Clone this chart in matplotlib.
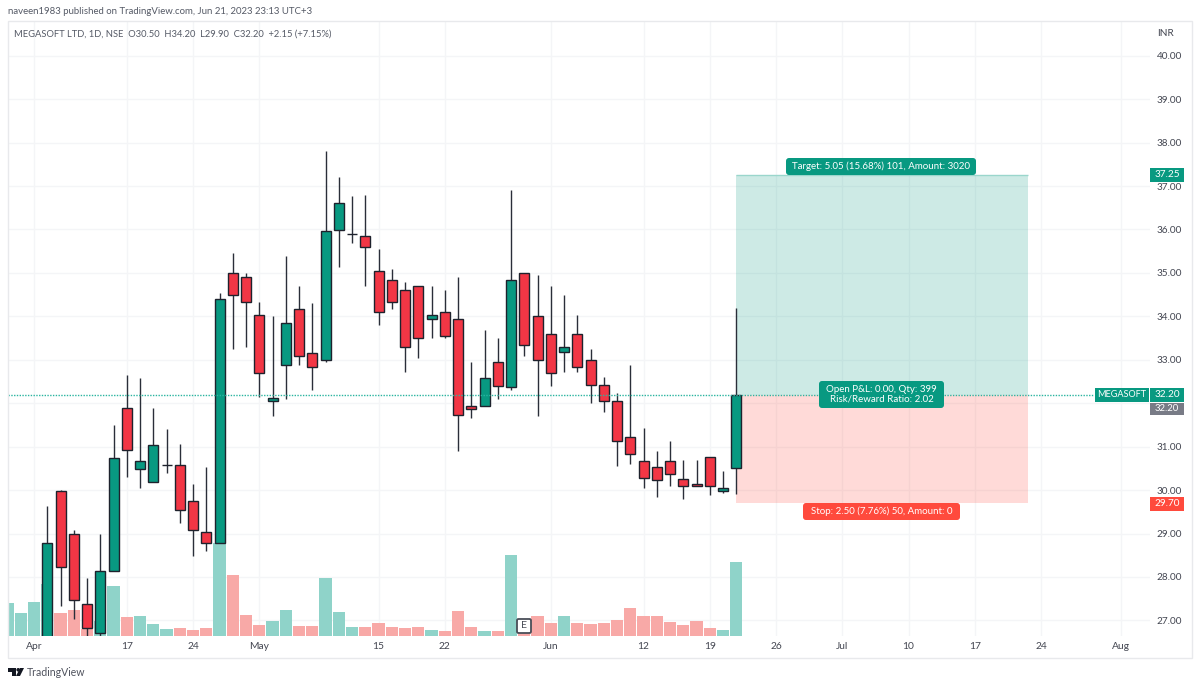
import matplotlib
matplotlib.use('Agg')
import matplotlib.pyplot as plt
import numpy as np
import pandas as pd
from matplotlib.patches import FancyBboxPatch, Rectangle, Polygon, Circle

plt.rcParams['font.family'] = ['Lato', 'DejaVu Sans']

GREEN = '#089981'
RED = '#F23645'
WICK = '#2a2e39'
GRID = '#f4f5f7'
TEXT = '#434651'

# NSE closed days inside the visible bars
holidays = ['2023-03-30', '2023-04-04', '2023-04-07', '2023-04-14', '2023-05-01']

# candles from 5 Apr to 21 Jun 2023
opens = [26.50, 29.98, 28.98, 27.37, 26.70, 28.13, 31.88, 30.48, 30.18, 30.58,
         30.57, 29.74, 29.03, 28.79, 34.99, 34.90, 34.04, 32.05, 32.89, 34.18,
         33.15, 32.99, 35.99, 35.89, 35.84, 35.04, 34.83, 34.60, 34.69, 33.95,
         34.09, 33.94, 31.93, 31.93, 32.94, 32.38, 34.99, 34.00, 33.59, 33.18,
         33.59, 32.99, 32.43, 32.04, 31.23, 30.68, 30.54, 30.68, 30.25, 30.13,
         30.75, 29.98, 30.50]
highs = [29.63, 30.00, 29.09, 27.97, 28.98, 31.50, 32.65, 32.59, 31.88, 31.40,
         31.05, 30.13, 30.54, 34.54, 35.46, 34.99, 34.34, 34.00, 35.40, 34.70,
         34.31, 37.81, 37.21, 36.76, 36.79, 35.55, 35.10, 34.80, 34.69, 34.69,
         34.60, 34.90, 32.95, 33.68, 33.50, 36.91, 34.99, 34.95, 34.70, 34.49,
         34.04, 33.25, 32.60, 32.23, 32.89, 31.44, 30.90, 31.14, 30.69, 30.69,
         30.75, 30.44, 34.20]
lows = [26.30, 27.33, 27.04, 26.50, 26.50, 28.13, 30.29, 30.05, 30.18, 30.40,
        29.25, 28.49, 28.60, 28.79, 33.25, 33.30, 32.15, 31.70, 32.10, 32.89,
        32.30, 32.95, 35.14, 35.70, 34.70, 33.81, 34.16, 32.71, 33.04, 33.51,
        33.51, 30.91, 31.65, 31.93, 32.10, 32.30, 33.09, 31.70, 32.39, 32.71,
        32.71, 32.00, 31.80, 30.55, 30.59, 30.05, 29.85, 30.10, 29.79, 30.09,
        29.89, 29.94, 29.90]
closes = [28.79, 28.23, 27.48, 26.83, 28.13, 30.74, 30.93, 30.68, 31.04, 30.58,
          29.53, 29.09, 28.79, 34.39, 34.48, 34.34, 32.70, 32.13, 33.84, 33.09,
          32.84, 35.96, 36.61, 35.89, 35.60, 34.09, 34.34, 33.29, 33.49, 34.04,
          33.54, 31.73, 31.87, 32.59, 32.39, 34.83, 33.35, 32.99, 32.70, 33.29,
          32.84, 32.43, 32.04, 31.14, 30.84, 30.28, 30.24, 30.38, 30.09, 30.09,
          30.09, 30.04, 32.20]

# volume, arbitrary units. First three have no visible candle
early_volumes = [99, 68, 102]
volumes = [155, 70, 78, 20, 46, 150, 58, 60, 36, 20,
           24, 17, 24, 279, 182, 63, 33, 44, 78, 29,
           29, 174, 72, 27, 27, 38, 28, 24, 26, 17,
           14, 75, 26, 14, 15, 242, 12, 60, 39, 60,
           39, 36, 39, 48, 83, 60, 60, 42, 34, 46,
           24, 19, 223]

price_ticks = [27, 28, 29, 30, 31, 32, 33, 34, 35, 36, 37, 38, 39, 40]
date_ticks = ['2023-04-03', '2023-04-17', '2023-04-24', '2023-05-02', '2023-05-15',
              '2023-05-22', '2023-06-01', '2023-06-12', '2023-06-19', '2023-06-26',
              '2023-07-03', '2023-07-10', '2023-07-17', '2023-07-24', '2023-08-01']
date_labels = ['Apr', '17', '24', 'May', '15', '22', 'Jun', '12', '19', '26',
               'Jul', '10', '17', '24', 'Aug']

entry = 32.20
target = 37.25
stop = 29.70
box_end = '2023-07-21'


def main():
    days = pd.bdate_range('2023-03-29', '2023-08-11')
    days = days[~days.isin(pd.to_datetime(holidays))]
    pos = {d: i for i, d in enumerate(days)}
    n_early = len(early_volumes)
    x = np.arange(n_early, n_early + len(closes))
    o, h, l, c = map(np.array, (opens, highs, lows, closes))
    up = c >= o

    fig = plt.figure(figsize=(12, 6.87), dpi=100)
    ax = fig.add_axes([8 / 1200, 51 / 687, 1142 / 1200, 615 / 687])
    ax.set_xlim(0.034, 86.22)
    ax.set_ylim(26.64, 40.80)
    for s in ax.spines.values():
        s.set_visible(False)

    ax.set_axisbelow(True)
    ax.grid(True, color=GRID, lw=1)
    ax.set_yticks(price_ticks)
    # the 32.00 label is hidden behind the price tags on the original
    ax.set_yticklabels(['' if p == 32 else f'{p:.2f}' for p in price_ticks],
                       fontsize=7.2, color=TEXT)
    ax.yaxis.tick_right()
    ax.set_xticks([pos[pd.Timestamp(d)] for d in date_ticks])
    ax.set_xticklabels(date_labels, fontsize=7.4, color=TEXT)
    ax.tick_params(axis='both', length=0)
    ax.tick_params(axis='x', pad=4)
    ax.tick_params(axis='y', pad=5)

    # volume sits at the bottom, scaled to the axes height
    vol_top = 1845
    vol_x = np.arange(n_early + len(volumes))
    vol = np.array(early_volumes + volumes) / vol_top
    vol_up = np.concatenate([np.ones(n_early, bool), up])
    ax.bar(vol_x, vol, width=0.92, transform=ax.get_xaxis_transform(),
           color=np.where(vol_up, '#8fd3c9', '#f8a9a7'), zorder=2)

    # long position tool
    x0, x1 = x[-1], pos[pd.Timestamp(box_end)]
    ax.add_patch(Rectangle((x0, entry), x1 - x0, target - entry, color=GREEN,
                           alpha=0.2, lw=0, zorder=2.5))
    ax.add_patch(Rectangle((x0, stop), x1 - x0, entry - stop, color='#FF4A3D',
                           alpha=0.2, lw=0, zorder=2.5))
    ax.hlines(target, x0, x1, color='#9ad6cc', lw=1, zorder=2.6)

    # candles
    ax.vlines(x, l, h, color=WICK, lw=1, zorder=3)
    ax.bar(x, np.abs(c - o), bottom=np.minimum(o, c), width=0.75,
           color=np.where(up, GREEN, RED), edgecolor='#1e222d', lw=1, zorder=4)

    # last price line
    ax.hlines(entry, 0.034, 82, color='#2bb5a0', lw=1, ls=(0, (1, 1)), zorder=5)

    # everything below is placed in image pixels
    ov = fig.add_axes([0, 0, 1, 1], zorder=5)
    ov.set_xlim(0, 1200)
    ov.set_ylim(687, 0)
    ov.axis('off')
    ov.patch.set_alpha(0)

    ov.add_patch(Rectangle((8, 21), 1184, 637, fill=False, ec='#e8e9ec', lw=1))
    ov.text(8, 12, 'naveen1983 published on TradingView.com, Jun 21, 2023 23:13 UTC+3',
            fontsize=6.9, color='#555a66', va='center')
    ov.text(14, 34, 'MEGASOFT LTD, 1D, NSE  O30.50  H34.20  L29.90  C32.20  +2.15 (+7.15%)',
            fontsize=6.75, color='#555a66', va='center')
    ov.text(1157, 33, 'INR', fontsize=7.2, color=TEXT, va='center')

    def tag(x_left, x_right, y_top, y_bot, label, color, size=7.2):
        ov.add_patch(Rectangle((x_left, y_top), x_right - x_left, y_bot - y_top,
                               fc=color, ec='none'))
        ov.text((x_left + x_right) / 2, (y_top + y_bot) / 2 - 0.5, label, color='white',
                fontsize=size, ha='center', va='center')

    def pill(x_left, x_right, y_top, y_bot, label, color):
        ov.add_patch(FancyBboxPatch((x_left + 2, y_top + 2), x_right - x_left - 4,
                                    y_bot - y_top - 4, boxstyle='round,pad=2,rounding_size=3',
                                    fc=color, ec='none'))
        ov.text((x_left + x_right) / 2, (y_top + y_bot) / 2 - 0.5, label, color='white',
                fontsize=7.0, ha='center', va='center', linespacing=1.0)

    tag(1150, 1184, 168, 182, f'{target:.2f}', GREEN)
    tag(1150, 1184, 388, 402, f'{entry:.2f}', GREEN)
    tag(1150, 1184, 402.5, 415, f'{entry:.2f}', '#787b86', 6.8)
    tag(1150, 1184, 497, 511, f'{stop:.2f}', '#FF4A3D')
    tag(1095, 1149, 388, 402, 'MEGASOFT', GREEN, 6.6)

    pill(786, 976, 158, 175, 'Target: 5.05 (15.68%) 101, Amount: 3020', GREEN)
    pill(819, 944, 381, 408, 'Open P&L: 0.00, Qty: 399\nRisk/Reward Ratio: 2.02', GREEN)
    pill(803, 960, 503, 520, 'Stop: 2.50 (7.76%) 50, Amount: 0', '#FF4A3D')

    # earnings marker
    ov.add_patch(FancyBboxPatch((518, 620), 12, 12, boxstyle='round,pad=1,rounding_size=1.5',
                                fc='white', ec='#4a4e58', lw=1.3))
    ov.text(524, 625.7, 'E', fontsize=7.5, color='#4a4e58', ha='center', va='center')

    # TradingView logo
    ov.add_patch(Polygon([(8, 668), (16, 668), (16, 676), (12, 676), (12, 671.5), (8, 671.5)],
                         fc='#131722', ec='none'))
    ov.add_patch(Circle((18.2, 669.8), 1.8, fc='#131722', ec='none'))
    ov.add_patch(Polygon([(20, 668), (24, 668), (20, 676), (16, 676)], fc='#131722', ec='none'))
    ov.text(27, 672.5, 'TradingView', fontsize=7.6, color='#50535e', va='center')

    fig.savefig('out.png', dpi=100, facecolor='white')


if __name__ == '__main__':
    main()
